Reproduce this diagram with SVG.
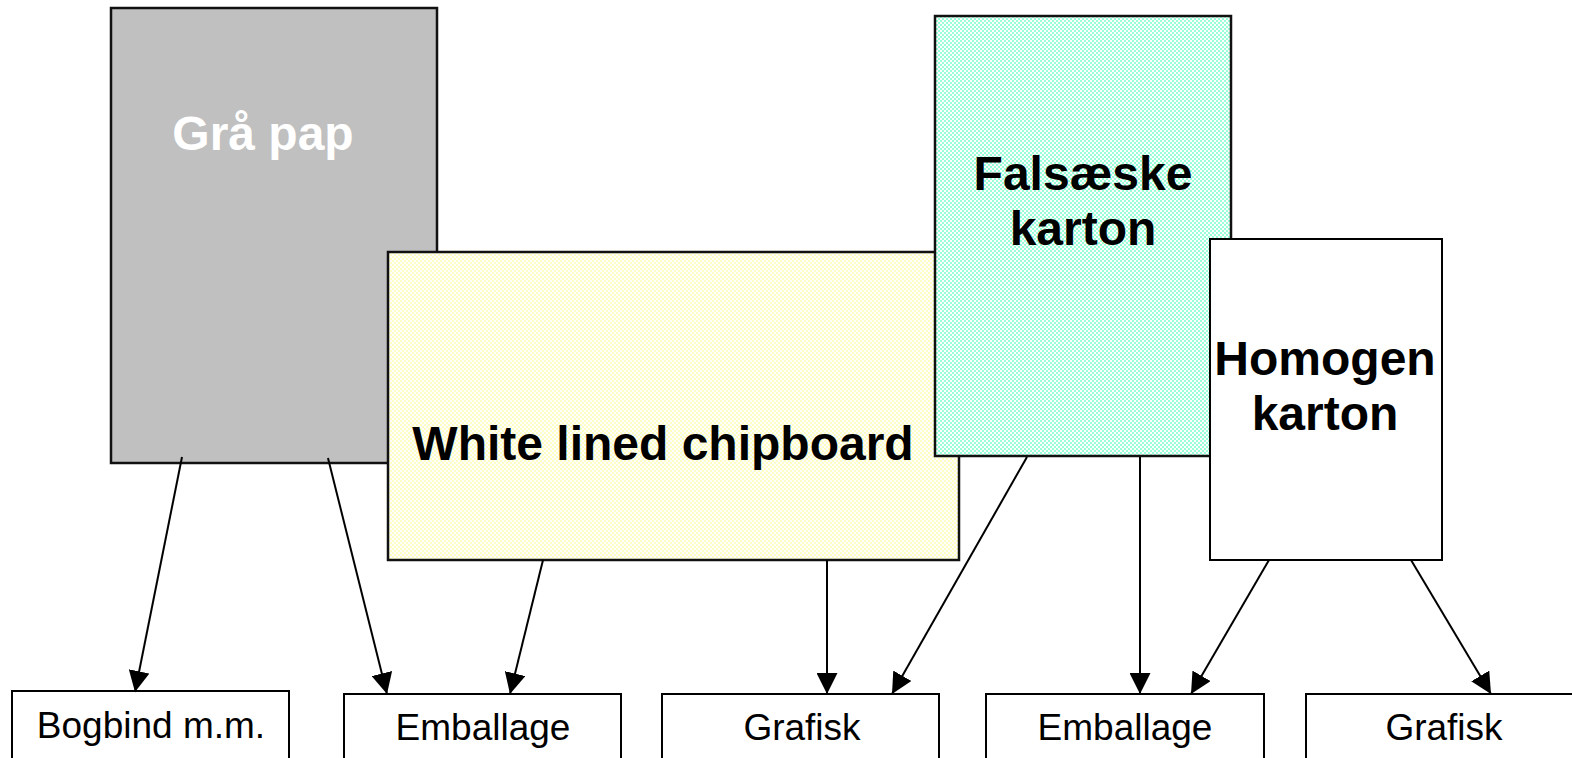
<svg xmlns="http://www.w3.org/2000/svg" width="1572" height="758" viewBox="0 0 1572 758">
<defs>
<pattern id="pGreen" width="4" height="4" patternUnits="userSpaceOnUse">
<rect width="4" height="4" fill="#ffffff"/>
<rect width="2" height="2" fill="#99ffd6"/>
<rect x="2" y="2" width="2" height="2" fill="#99ffd6"/>
</pattern>
<pattern id="pYellow" width="4" height="4" patternUnits="userSpaceOnUse">
<rect width="4" height="4" fill="#ffffff"/>
<rect width="2" height="2" fill="#ffffc4"/>
<rect x="2" y="2" width="2" height="2" fill="#ffffc4"/>
</pattern>
<marker id="arr" viewBox="0 0 20 20" refX="20" refY="10" markerWidth="21" markerHeight="21" markerUnits="userSpaceOnUse" orient="auto">
<path d="M0,0 L20,10 L0,20 Z" fill="#000"/>
</marker>
</defs>
<style>
.big{stroke:#111;stroke-width:2.5}
.small{fill:#fff;stroke:#000;stroke-width:2}
.bt{font-family:"Liberation Sans",Arial,sans-serif;font-weight:bold;font-size:48px;text-anchor:middle}
.st{font-family:"Liberation Sans",Arial,sans-serif;font-size:37px;text-anchor:middle;fill:#000}
.con{stroke:#000;stroke-width:2;fill:none;marker-end:url(#arr)}
</style>
<rect width="1572" height="758" fill="#fff"/>
<g id="graa-pap">
<rect class="big" x="111" y="8" width="326" height="455" fill="#c0c0c0"/>
<text class="bt" x="263" y="150" fill="#fff">Grå pap</text>
</g>
<g id="white-lined-chipboard">
<rect class="big" x="388" y="252" width="571" height="308" fill="url(#pYellow)"/>
<text class="bt" x="663" y="460" fill="#000">White lined chipboard</text>
</g>
<g id="falsaeske-karton">
<rect class="big" x="935" y="16" width="296" height="440" fill="url(#pGreen)"/>
<text class="bt" x="1083" y="190" fill="#000">Falsæske</text>
<text class="bt" x="1083" y="245" fill="#000">karton</text>
</g>
<g id="homogen-karton">
<rect class="small" x="1210" y="239" width="232" height="321"/>
<text class="bt" x="1325" y="375" fill="#000">Homogen</text>
<text class="bt" x="1325" y="430" fill="#000">karton</text>
</g>
<g id="bogbind">
<rect class="small" x="12" y="691" width="277" height="80"/>
<text class="st" x="151" y="738">Bogbind m.m.</text>
</g>
<g id="emballage1">
<rect class="small" x="344" y="694" width="277" height="80"/>
<text class="st" x="483" y="740">Emballage</text>
</g>
<g id="grafisk1">
<rect class="small" x="662" y="694" width="277" height="80"/>
<text class="st" x="802" y="740">Grafisk</text>
</g>
<g id="emballage2">
<rect class="small" x="986" y="694" width="278" height="80"/>
<text class="st" x="1125" y="740">Emballage</text>
</g>
<g id="grafisk2">
<rect class="small" x="1306" y="694" width="290" height="80"/>
<text class="st" x="1444" y="740">Grafisk</text>
</g>
<g id="connectors">
<line class="con" x1="182" y1="457" x2="135" y2="692"/>
<line class="con" x1="328" y1="458" x2="387" y2="694"/>
<line class="con" x1="543" y1="560" x2="510" y2="694"/>
<line class="con" x1="827" y1="560" x2="827" y2="694"/>
<line class="con" x1="1027" y1="457" x2="892" y2="694"/>
<line class="con" x1="1140" y1="457" x2="1140" y2="694"/>
<line class="con" x1="1269" y1="560" x2="1191" y2="694"/>
<line class="con" x1="1411" y1="560" x2="1491" y2="694"/>
</g>
</svg>
